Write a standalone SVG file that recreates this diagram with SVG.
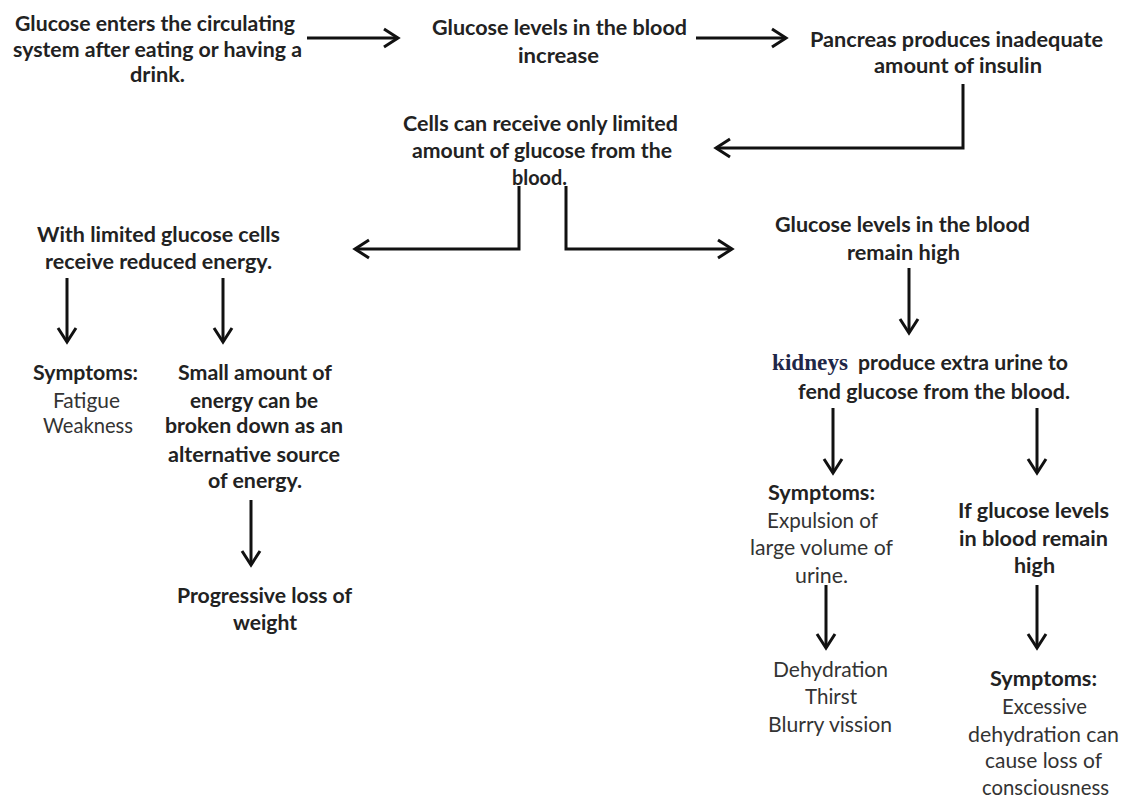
<svg xmlns="http://www.w3.org/2000/svg" width="1126" height="800" viewBox="0 0 1126 800">
<style>
text{font-family:Lato,"Open Sans","Liberation Sans",sans-serif;font-size:21px;text-anchor:middle;fill:#222}
.b{font-weight:bold}
.r{font-weight:normal;fill:#333}
.k{font-family:"Liberation Serif","DejaVu Serif",serif;font-weight:bold;font-size:23px;fill:#1f2748;text-anchor:start}
.c{fill:none;stroke:#111;stroke-width:3;stroke-linejoin:miter}
</style>
<defs>
<marker id="ah" markerUnits="userSpaceOnUse" markerWidth="20" markerHeight="24" viewBox="0 0 20 24" refX="16" refY="12" orient="auto">
<path d="M2,3 L16,12 L2,21" fill="none" stroke="#111" stroke-width="3"/>
</marker>
</defs>
<rect width="1126" height="800" fill="#fff"/>
<g id="connectors">
<path class="c" d="M307,38 H398" marker-end="url(#ah)"/>
<path class="c" d="M696,38 H786" marker-end="url(#ah)"/>
<path class="c" d="M963,84 V148 H716" marker-end="url(#ah)"/>
<path class="c" d="M519,186 V249 H355" marker-end="url(#ah)"/>
<path class="c" d="M566,186 V249 H732" marker-end="url(#ah)"/>
<path class="c" d="M67,278 V342" marker-end="url(#ah)"/>
<path class="c" d="M223,278 V342" marker-end="url(#ah)"/>
<path class="c" d="M251,500 V565" marker-end="url(#ah)"/>
<path class="c" d="M909,268 V333" marker-end="url(#ah)"/>
<path class="c" d="M833,408 V473" marker-end="url(#ah)"/>
<path class="c" d="M1037,408 V473" marker-end="url(#ah)"/>
<path class="c" d="M826,585 V648" marker-end="url(#ah)"/>
<path class="c" d="M1037,585 V648" marker-end="url(#ah)"/>
</g>
<g id="n-glucose-enters">
<text class="b" x="155" y="31" textLength="280" lengthAdjust="spacingAndGlyphs">Glucose enters the circulating</text>
<text class="b" x="157.5" y="57" textLength="289" lengthAdjust="spacingAndGlyphs">system after eating or having a</text>
<text class="b" x="157.5" y="82" textLength="55" lengthAdjust="spacingAndGlyphs">drink.</text>
</g>
<g id="n-levels-increase">
<text class="b" x="559.5" y="35" textLength="255" lengthAdjust="spacingAndGlyphs">Glucose levels in the blood</text>
<text class="b" x="558.5" y="63" textLength="81" lengthAdjust="spacingAndGlyphs">increase</text>
</g>
<g id="n-pancreas">
<text class="b" x="956.5" y="47" textLength="293" lengthAdjust="spacingAndGlyphs">Pancreas produces inadequate</text>
<text class="b" x="958" y="73" textLength="168" lengthAdjust="spacingAndGlyphs">amount of insulin</text>
</g>
<g id="n-cells">
<text class="b" x="540.5" y="131" textLength="275" lengthAdjust="spacingAndGlyphs">Cells can receive only limited</text>
<text class="b" x="542" y="158" textLength="260" lengthAdjust="spacingAndGlyphs">amount of glucose from the</text>
<text class="b" x="539.5" y="185" textLength="55" lengthAdjust="spacingAndGlyphs">blood.</text>
</g>
<g id="n-reduced-energy">
<text class="b" x="158.5" y="242" textLength="243" lengthAdjust="spacingAndGlyphs">With limited glucose cells</text>
<text class="b" x="158.5" y="269" textLength="227" lengthAdjust="spacingAndGlyphs">receive reduced energy.</text>
</g>
<g id="n-symptoms-fatigue">
<text class="b" x="85.5" y="380" textLength="105" lengthAdjust="spacingAndGlyphs">Symptoms:</text>
<text class="r" x="86.5" y="408" textLength="67" lengthAdjust="spacingAndGlyphs">Fatigue</text>
<text class="r" x="88" y="433" textLength="90" lengthAdjust="spacingAndGlyphs">Weakness</text>
</g>
<g id="n-small-amount">
<text class="b" x="255" y="380" textLength="154" lengthAdjust="spacingAndGlyphs">Small amount of</text>
<text class="b" x="254" y="408" textLength="128" lengthAdjust="spacingAndGlyphs">energy can be</text>
<text class="b" x="254" y="433" textLength="178" lengthAdjust="spacingAndGlyphs">broken down as an</text>
<text class="b" x="254" y="462" textLength="172" lengthAdjust="spacingAndGlyphs">alternative source</text>
<text class="b" x="255" y="488" textLength="94" lengthAdjust="spacingAndGlyphs">of energy.</text>
</g>
<g id="n-weight-loss">
<text class="b" x="264.5" y="603" textLength="175" lengthAdjust="spacingAndGlyphs">Progressive loss of</text>
<text class="b" x="265" y="630" textLength="64" lengthAdjust="spacingAndGlyphs">weight</text>
</g>
<g id="n-remain-high">
<text class="b" x="902.5" y="232" textLength="255" lengthAdjust="spacingAndGlyphs">Glucose levels in the blood</text>
<text class="b" x="903.5" y="260" textLength="113" lengthAdjust="spacingAndGlyphs">remain high</text>
</g>
<g id="n-kidneys">
<text class="k" x="772" y="370" textLength="76" lengthAdjust="spacingAndGlyphs">kidneys</text>
<text class="b" x="963" y="370" textLength="210" lengthAdjust="spacingAndGlyphs">produce extra urine to</text>
<text class="b" x="934" y="399" textLength="272" lengthAdjust="spacingAndGlyphs">fend glucose from the blood.</text>
</g>
<g id="n-symptoms-urine">
<text class="b" x="821.5" y="500" textLength="107" lengthAdjust="spacingAndGlyphs">Symptoms:</text>
<text class="r" x="822.5" y="528" textLength="111" lengthAdjust="spacingAndGlyphs">Expulsion of</text>
<text class="r" x="821.5" y="555" textLength="143" lengthAdjust="spacingAndGlyphs">large volume of</text>
<text class="r" x="821.5" y="583" textLength="53" lengthAdjust="spacingAndGlyphs">urine.</text>
</g>
<g id="n-dehydration">
<text class="r" x="830.5" y="677" textLength="115" lengthAdjust="spacingAndGlyphs">Dehydration</text>
<text class="r" x="831" y="704" textLength="52" lengthAdjust="spacingAndGlyphs">Thirst</text>
<text class="r" x="830" y="732" textLength="124" lengthAdjust="spacingAndGlyphs">Blurry vission</text>
</g>
<g id="n-if-high">
<text class="b" x="1033.5" y="518" textLength="151" lengthAdjust="spacingAndGlyphs">If glucose levels</text>
<text class="b" x="1033.5" y="546" textLength="149" lengthAdjust="spacingAndGlyphs">in blood remain</text>
<text class="b" x="1034.5" y="573" textLength="41" lengthAdjust="spacingAndGlyphs">high</text>
</g>
<g id="n-consciousness">
<text class="b" x="1043.5" y="686" textLength="107" lengthAdjust="spacingAndGlyphs">Symptoms:</text>
<text class="r" x="1044.5" y="714" textLength="85" lengthAdjust="spacingAndGlyphs">Excessive</text>
<text class="r" x="1043.5" y="742" textLength="151" lengthAdjust="spacingAndGlyphs">dehydration can</text>
<text class="r" x="1043.5" y="768" textLength="117" lengthAdjust="spacingAndGlyphs">cause loss of</text>
<text class="r" x="1045.5" y="795" textLength="127" lengthAdjust="spacingAndGlyphs">consciousness</text>
</g>
</svg>
